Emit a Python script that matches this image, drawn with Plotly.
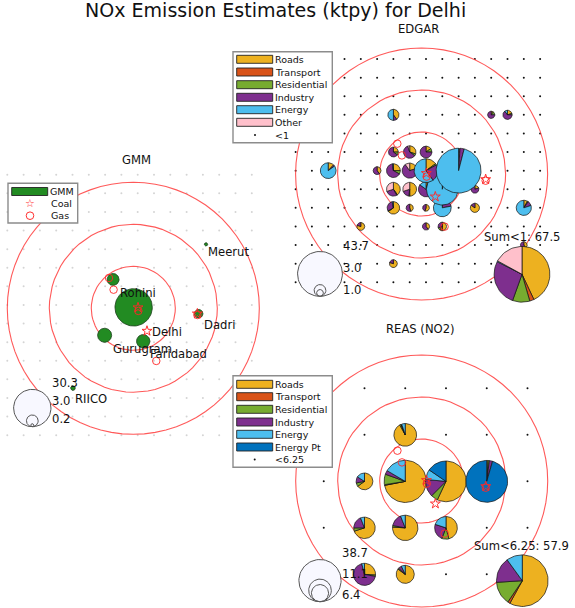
import math
import plotly.graph_objects as go

W, H = 575, 608
PX_LON, PX_LAT = 163.0, 186.0      # map scale of all three panels
LON0, LAT0 = 77.123, 28.632        # centre of the rings
FONT = "DejaVu Sans"
TITLE = "NOx Emission Estimates (ktpy) for Delhi"

C_ROADS, C_TRANS, C_RES, C_IND, C_EN = "#EDB120", "#D95319", "#77AC30", "#7E2F8E", "#4DBEEE"
C_OTHER, C_ENPT = "#FFC0CB", "#0072BD"
EDGAR_COLORS = [C_ROADS, C_TRANS, C_RES, C_IND, C_EN, C_OTHER]
REAS_COLORS = [C_ROADS, C_TRANS, C_RES, C_IND, C_EN, C_ENPT]
EDGAR_SECTORS = ["Roads", "Transport", "Residential", "Industry", "Energy", "Other"]
REAS_SECTORS = ["Roads", "Transport", "Residential", "Industry", "Energy", "Energy Pt"]

RING_KM = [25, 50, 75]
KM_PER_DEG_LAT = 110.7
SIZE_K = 3.39                      # pixel radius per sqrt(ktpy)

# Power plants
GAS_LON = [76.974, 77.002, 77.154, 77.516, 77.264]
GAS_LAT = [28.795, 28.732, 28.618, 28.596, 28.349]
COAL_LON = [77.152, 77.207, 77.516]
COAL_LAT = [28.636, 28.510, 28.603]

# GMM
GMM_LON = [76.999, 77.125, 76.947, 77.184, 77.524, 77.569, 76.753]
GMM_LAT = [28.787, 28.637, 28.487, 28.455, 28.603, 28.976, 28.203]
GMM_TOTAL = [3.1, 30.3, 4.3, 3.9, 1.6, 0.24, 0.47]
GMM_GRID_LON = [76.35, 76.45, 76.55, 76.65, 76.75, 76.85, 76.95, 77.05, 77.15, 77.25, 77.35, 77.45, 77.55, 77.65, 77.75, 77.85]
GMM_GRID_LAT = [27.95, 28.05, 28.15, 28.25, 28.35, 28.45, 28.55, 28.65, 28.75, 28.85, 28.95, 29.05, 29.15, 29.25, 29.35]
GMM_PLACES = ["Rohini", "Delhi", "Gurugram", "Faridabad", "Dadri", "Meerut", "RIICO"]
GMM_PLACE_X = [119.5, 152, 112.5, 150, 204, 208, 75]
GMM_PLACE_Y = [292.5, 331.5, 349, 354, 325, 252, 398.5]

# EDGAR
EDGAR_LON = [76.95, 77.75, 76.75, 77.15, 77.25, 76.95, 77.05, 77.15, 77.25, 77.45, 77.75,
             76.95, 77.05, 77.15, 77.25, 77.45, 76.55, 76.85, 76.95, 77.05, 77.15, 77.35,
             76.95, 77.05, 77.15, 76.95, 77.55, 77.65]
EDGAR_LAT = [28.15, 28.25, 28.35, 28.35, 28.35, 28.45, 28.45, 28.45, 28.45, 28.45, 28.45,
             28.55, 28.55, 28.55, 28.55, 28.55, 28.65, 28.65, 28.65, 28.65, 28.65, 28.65,
             28.75, 28.75, 28.75, 28.95, 28.95, 28.95]
EDGAR_TOTAL = [1.36, 1.0, 1.36, 1.14, 1.6, 3.4, 1.14, 1.0, 6.9, 1.85, 5.0,
               4.15, 4.15, 5.0, 21.7, 1.36, 5.4, 1.36, 4.15, 5.0, 12.2, 43.7,
               2.1, 3.4, 3.05, 2.7, 1.14, 1.85]
EDGAR_SHARES = [
    [80, 0, 0, 20, 0, 0], [40, 0, 0, 60, 0, 0], [80, 0, 0, 20, 0, 0], [40, 0, 0, 60, 0, 0],
    [50, 10, 10, 30, 0, 0], [65, 0, 2, 30, 3, 0], [45, 0, 0, 55, 0, 0], [55, 0, 0, 45, 0, 0],
    [1, 0, 1, 20, 78, 0], [85, 0, 0, 15, 0, 0], [8, 0, 2, 10, 80, 0],
    [40, 0, 2, 28, 0, 30], [50, 0, 2, 18, 0, 30], [5, 0, 0, 80, 15, 0], [0.5, 0, 0.5, 2, 97, 0],
    [20, 0, 0, 80, 0, 0], [12, 0, 0, 3, 85, 0], [40, 0, 0, 60, 0, 0], [25, 0, 8, 65, 2, 0],
    [20, 0, 0, 70, 0, 10], [15, 0, 2, 23, 60, 0], [0.5, 0, 0.5, 3, 96, 0],
    [25, 0, 10, 65, 0, 0], [30, 0, 5, 60, 0, 5], [15, 0, 10, 75, 0, 0],
    [40, 0, 0, 10, 50, 0], [10, 0, 15, 75, 0, 0], [20, 0, 5, 65, 10, 0],
]
EDGAR_GRID_LON = [76.35, 76.45, 76.55, 76.65, 76.75, 76.85, 76.95, 77.05, 77.15, 77.25, 77.35, 77.45, 77.55, 77.65, 77.75, 77.85]
EDGAR_GRID_LAT = [28.05, 28.15, 28.25, 28.35, 28.45, 28.55, 28.65, 28.75, 28.85, 28.95, 29.05, 29.15, 29.25]
EDGAR_SUM = 67.5
EDGAR_SUM_SHARES = [43, 2.5, 10, 27, 0.5, 17]

# REAS
REAS_LON = [76.772, 77.022, 76.772, 77.022, 77.272, 76.772, 77.022, 77.272, 77.522, 77.022]
REAS_LAT = [28.13, 28.13, 28.38, 28.38, 28.38, 28.63, 28.63, 28.63, 28.63, 28.88]
REAS_TOTAL = [10.6, 7.1, 10.0, 14.0, 11.2, 6.1, 38.7, 36.0, 38.0, 11.2]
REAS_SHARES = [
    [26, 0, 2, 68, 4, 0], [85, 0, 2, 6, 7, 0], [70, 0, 5, 19, 6, 0],
    [76, 0, 2, 16, 6, 0], [46, 0, 10, 24, 20, 0], [65, 0, 7, 12, 16, 0],
    [72, 0.5, 8, 3, 16.5, 0], [57, 0, 5.5, 14, 8, 15.5], [1, 0, 1, 2.5, 0, 95.5], [92, 0, 2, 1, 5, 0],
]
REAS_GRID_LON = [76.522, 76.772, 77.022, 77.272, 77.522, 77.772]
REAS_GRID_LAT = [28.13, 28.38, 28.63, 28.88, 29.13]
REAS_SUM = 57.9
REAS_SUM_SHARES = [58, 1.5, 14.5, 16, 10, 0]

# Size keys: label values
GMM_KEY = [30.3, 3.0, 0.2]
EDGAR_KEY = [43.7, 3.0, 1.0]
REAS_KEY = [38.7, 11.1, 6.4]

# Panels: pixel position of the ring centre
PANELS = {"GMM": (133.3, 308.3), "EDGAR": (421.6, 174.0), "REAS": (421.7, 481.0)}


def lon_of(panel, px):
    return LON0 + (px - PANELS[panel][0]) / PX_LON


def lat_of(panel, py):
    return LAT0 - (py - PANELS[panel][1]) / PX_LAT


fig = go.Figure()
AX = {"GMM": ("x", "y"), "EDGAR": ("x2", "y2"), "REAS": ("x3", "y3")}


def add(panel, **kw):
    xa, ya = AX[panel]
    fig.add_trace(go.Scatter(xaxis=xa, yaxis=ya, showlegend=False, hoverinfo="skip", **kw))


def add_dots(panel, lons, lats, color, size):
    xs = [a for a in lons for _ in lats]
    ys = [b for _ in lons for b in lats]
    add(panel, x=xs, y=ys, mode="markers", marker=dict(color=color, size=size, line=dict(width=0)))


def add_rings(panel):
    t = [2 * math.pi * i / 72 for i in range(73)]
    for km in RING_KM:
        rlat = km / KM_PER_DEG_LAT
        rlon = rlat * PX_LAT / PX_LON
        add(panel, x=[LON0 + rlon * math.cos(a) for a in t], y=[LAT0 + rlat * math.sin(a) for a in t],
            mode="lines", line=dict(color="rgba(255,60,60,0.85)", width=1.1))


def add_circle(panel, lon, lat, total, fill, edge, width=1.0):
    r = SIZE_K * math.sqrt(total)
    t = [2 * math.pi * i / 72 for i in range(73)]
    add(panel, x=[lon + r / PX_LON * math.cos(a) for a in t], y=[lat + r / PX_LAT * math.sin(a) for a in t],
        mode="lines", fill="toself", fillcolor=fill, line=dict(color=edge, width=width))


def add_pie(panel, lon, lat, total, shares, colors):
    r = SIZE_K * math.sqrt(total)
    s = sum(shares)
    start = 0.0
    for v, c in zip(shares, colors):
        if v <= 0:
            continue
        sweep = 360.0 * v / s
        n = max(2, int(sweep / 4) + 1)
        angs = [math.radians(start + sweep * i / n) for i in range(n + 1)]
        xs = [lon] + [lon + r / PX_LON * math.sin(a) for a in angs] + [lon]
        ys = [lat] + [lat + r / PX_LAT * math.cos(a) for a in angs] + [lat]
        add(panel, x=xs, y=ys, mode="lines", fill="toself", fillcolor=c,
            line=dict(color="rgba(20,20,20,0.9)", width=0.8))
        start += sweep


def add_plants(panel):
    add(panel, x=GAS_LON, y=GAS_LAT, mode="markers",
        marker=dict(symbol="circle-open", size=7.5, color="rgba(255,40,40,0.9)", line=dict(width=1)))
    add(panel, x=COAL_LON, y=COAL_LAT, mode="markers",
        marker=dict(symbol="star-open", size=7.5, color="rgba(255,40,40,0.95)", line=dict(width=1)))


def add_key(panel, cx, bottom, values):
    for i, v in enumerate(values):
        r = SIZE_K * math.sqrt(v)
        add_circle(panel, lon_of(panel, cx), lat_of(panel, bottom - r), v,
                   "#F8F8FF" if i == 0 else "rgba(248,248,255,0.3)", "#555555", 1.0)


# --- GMM ---
add_dots("GMM", GMM_GRID_LON, GMM_GRID_LAT, "#D4D4D4", 2)
add_rings("GMM")
for lon, lat, tot in zip(GMM_LON, GMM_LAT, GMM_TOTAL):
    add_circle("GMM", lon, lat, tot, "#228B22", "#1a3d1a", 0.8)
add_plants("GMM")
add_key("GMM", 32.3, 426.7, GMM_KEY)

# --- EDGAR ---
add_dots("EDGAR", EDGAR_GRID_LON, EDGAR_GRID_LAT, "#111111", 2)
add_rings("EDGAR")
for lon, lat, tot, sh in zip(EDGAR_LON, EDGAR_LAT, EDGAR_TOTAL, EDGAR_SHARES):
    add_pie("EDGAR", lon, lat, tot, sh, EDGAR_COLORS)
add_plants("EDGAR")
add_pie("EDGAR", lon_of("EDGAR", 522), lat_of("EDGAR", 274.3), EDGAR_SUM, EDGAR_SUM_SHARES, EDGAR_COLORS)
add_key("EDGAR", 320, 296.3, EDGAR_KEY)

# --- REAS ---
add_dots("REAS", REAS_GRID_LON, REAS_GRID_LAT, "#111111", 2)
add_rings("REAS")
for lon, lat, tot, sh in zip(REAS_LON, REAS_LAT, REAS_TOTAL, REAS_SHARES):
    add_pie("REAS", lon, lat, tot, sh, REAS_COLORS)
add_plants("REAS")
add_pie("REAS", lon_of("REAS", 522.3), lat_of("REAS", 580.7), REAS_SUM, REAS_SUM_SHARES, REAS_COLORS)
add_key("REAS", 320, 601.7, REAS_KEY)

# --- text and legends in pixels of the page ---
shapes, annos = [], []


def pxx(x):
    return x / W


def pxy(y):
    return 1 - y / H


def text(x, y, s, size=11.6, anchor="left", color="#111111"):
    annos.append(dict(x=pxx(x), y=pxy(y), xref="paper", yref="paper", text=s, showarrow=False,
                      xanchor=anchor, yanchor="middle", borderpad=0, borderwidth=0,
                      font=dict(family=FONT, size=size, color=color)))


def box(x0, y0, x1, y1, fill, edge, width):
    shapes.append(dict(type="rect", xref="paper", yref="paper", x0=pxx(x0), x1=pxx(x1), y0=pxy(y1), y1=pxy(y0),
                       fillcolor=fill, line=dict(color=edge, width=width), layer="above"))


def legend(x0, y0, x1, y1, names, colors, ys):
    box(x0, y0, x1, y1, "#FFFFFF", "#8c8c8c", 1.4)
    for n, c, yy in zip(names, colors, ys):
        box(x0 + 3.7, yy - 4, x0 + 39.7, yy + 4, c, "#222222", 0.9)
        text(x0 + 42.2, yy, n, size=9.5)


text(275, 9.5, TITLE, size=19.05, anchor="center")
text(136, 160, "GMM", anchor="center")
text(418, 28.5, "EDGAR", anchor="center")
text(420, 328.5, "REAS (NO2)", anchor="center")

for s, x, y in zip(GMM_PLACES, GMM_PLACE_X, GMM_PLACE_Y):
    text(x, y, s)

for v, y in zip(GMM_KEY, [383, 401, 419]):
    text(51.7, y, f"{v:.1f}")
for v, y in zip(EDGAR_KEY, [245.7, 267.7, 290]):
    text(342.7, y, f"{v:.1f}")
for v, y in zip(REAS_KEY, [552.7, 574, 595]):
    text(341.7, y, f"{v:.1f}")
text(484, 237.3, f"Sum<1: {EDGAR_SUM:.1f}")
text(474.3, 546, f"Sum<6.25: {REAS_SUM:.1f}")

# GMM legend
legend(8, 183.3, 77.7, 223, ["GMM"], ["#228B22"], [191.5])
text(50.7, 203.5, "Coal", size=9.5)
text(50.7, 215.7, "Gas", size=9.5)
# EDGAR legend
legend(233, 51.7, 332.3, 142.7, EDGAR_SECTORS, EDGAR_COLORS, [59.3, 72, 84.7, 97.3, 109.7, 122.3])
text(275.2, 135, "<1", size=9.5)
# REAS legend
legend(233, 375.7, 332.3, 467.3, REAS_SECTORS, REAS_COLORS, [384.3, 396.7, 409.3, 422, 434.3, 447])
text(275.2, 459.5, "<6.25", size=9.5)

# Legend glyphs
annos.append(dict(x=pxx(30), y=pxy(203.3), xref="paper", yref="paper", text="☆", showarrow=False,
                  xanchor="center", yanchor="middle", font=dict(family=FONT, size=11, color="#ff3030")))
shapes.append(dict(type="circle", xref="paper", yref="paper", x0=pxx(26.2), x1=pxx(33.8), y0=pxy(219.5), y1=pxy(211.9),
                   line=dict(color="#ff3030", width=1), layer="above"))
for cx, cy in [(255, 135), (254.7, 459.4)]:
    shapes.append(dict(type="circle", xref="paper", yref="paper", x0=pxx(cx - 1), x1=pxx(cx + 1),
                       y0=pxy(cy + 1), y1=pxy(cy - 1), fillcolor="#111111", line=dict(width=0), layer="above"))

layout = dict(width=W, height=H, autosize=False, margin=dict(l=0, r=0, t=0, b=0),
              paper_bgcolor="white", plot_bgcolor="rgba(0,0,0,0)", showlegend=False,
              shapes=shapes, annotations=annos, hovermode=False)
for suffix, panel in (("", "GMM"), ("2", "EDGAR"), ("3", "REAS")):
    layout["xaxis" + suffix] = dict(visible=False, domain=[0, 1], fixedrange=True,
                                    range=[lon_of(panel, 0), lon_of(panel, W)], anchor="y" + suffix)
    layout["yaxis" + suffix] = dict(visible=False, domain=[0, 1], fixedrange=True,
                                    range=[lat_of(panel, H), lat_of(panel, 0)], anchor="x" + suffix)
fig.update_layout(**layout)

fig.write_html("out.html", config=dict(displayModeBar=False),
               post_script="document.body.style.margin='0';document.documentElement.style.overflow='hidden';")
